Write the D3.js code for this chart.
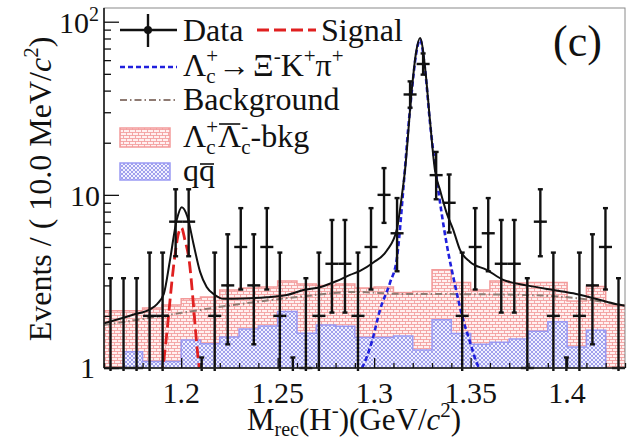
<!DOCTYPE html>
<html><head><meta charset="utf-8">
<script src="https://cdn.jsdelivr.net/npm/d3@7"></script>
<style>
body{margin:0;background:#fff}
text{font-family:"Liberation Serif","Times New Roman",serif;fill:#111}
</style>
</head><body>
<svg id="c" width="641" height="443"></svg>
<script>
// ---------------- data ----------------
const xMin = 1.16, xMax = 1.43;
const yMin = 1, yMax = 120;
const xTickValues = [1.2, 1.25, 1.3, 1.35, 1.4];
const xTickLabels = ["1.2", "1.25", "1.3", "1.35", "1.4"];
const yTickValues = [1, 10, 100];

// data histogram (40 bins over the range)
const dataCounts = [1,1,1,2,2,7,7,0,2,3,5,3,5,2,0,1,2,4,4,2,5,10,6,38,57,13,9,2,5,6,4,4,1,7,2,0,2,3,5,1];
const dataErrLow = [0.83,0.83,0.83,1.29,1.29,2.58,2.58,0,1.29,1.63,2.16,1.63,2.16,1.29,0,0.83,1.29,1.91,1.91,1.29,2.16,3.11,2.38,6.14,7.53,3.57,2.94,1.29,2.16,2.38,1.91,1.91,0.83,2.58,1.29,0,1.29,1.63,2.16,0.83];
const dataErrHigh = [2.30,2.30,2.30,2.64,2.64,3.77,3.77,1.15,2.64,2.92,3.38,2.92,3.38,2.64,1.15,2.30,2.64,3.16,3.16,2.64,3.38,4.27,3.58,7.23,8.58,4.70,4.11,2.64,3.38,3.58,3.16,3.16,2.30,3.77,2.64,1.15,2.64,2.92,3.38,2.30];

// MC histograms (27 bins of 10 MeV): LcLc-bkg stacked on qq, and qq alone
const lcBkgStack = [2.14,2.14,2.22,2.31,2.51,2.57,2.82,2.90,2.94,3.18,3.06,3.00,3.06,2.90,2.94,2.73,2.77,3.69,3.12,2.82,3.18,3.10,3.12,3.12,2.44,2.96,2.31];
const qqBkg = [0.9,1.24,1.09,1.09,1.45,1.38,1.51,1.68,1.75,2.12,1.59,1.77,1.74,1.50,1.50,1.53,1.27,1.90,1.58,1.37,1.41,1.47,1.63,1.85,1.32,1.65,0.9];

// fit curves: [mass, events]
const totalFit = [[1.160,1.81],[1.175,2.03],[1.184,2.19],[1.1875,2.34],[1.191,2.68],[1.194,4.07],[1.1977,7.17],[1.2003,8.49],[1.2032,7.49],[1.2063,5.26],[1.2098,3.59],[1.2132,2.94],[1.2175,2.64],[1.2218,2.51],[1.2322,2.52],[1.2443,2.56],[1.2547,2.64],[1.2633,2.82],[1.2719,2.93],[1.2806,3.18],[1.2875,3.45],[1.2927,3.64],[1.2996,4.07],[1.3065,4.75],[1.3117,6.28],[1.3143,9.78],[1.316,13.9],[1.3195,40.4],[1.3217,66.2],[1.3238,80.5],[1.3264,54.2],[1.3289,27.1],[1.3315,13.9],[1.3341,10.7],[1.3376,7.84],[1.341,6.28],[1.3445,4.81],[1.3497,4.10],[1.3583,3.69],[1.3669,3.23],[1.3791,3.00],[1.3928,2.82],[1.4032,2.70],[1.4136,2.53],[1.4239,2.36],[1.43,2.29]];
const signalCurve = [[1.1895,0.875],[1.1904,1.0],[1.1968,4.50],[1.1984,5.87],[1.2002,6.45],[1.2019,5.50],[1.2037,4.50],[1.2094,1.0],[1.2102,0.875]];
const xiKpiCurve = [[1.2916,0.91],[1.2937,1.0],[1.2989,1.43],[1.303,2.16],[1.3082,3.10],[1.3118,4.32],[1.3155,12.2],[1.3176,23.8],[1.3195,39.5],[1.3217,64.6],[1.3238,78.7],[1.3264,52.8],[1.3289,26.4],[1.3324,12.5],[1.3372,5.5],[1.3419,3.02],[1.3455,2.02],[1.3497,1.41],[1.3538,1.03],[1.3575,0.91]];
const backgroundCurve = [[1.16,1.77],[1.1925,2.02],[1.2269,2.31],[1.2616,2.58],[1.2901,2.75],[1.3134,2.68],[1.3445,2.67],[1.3791,2.64],[1.405,2.53],[1.43,2.29]];

// ---------------- drawing ----------------
const svg = d3.select('#c');
const L = 104, R = 625, T = 8, B = 368;
const x = d3.scaleLinear().domain([xMin, xMax]).range([L, R]);
const y = d3.scaleLog().domain([yMin, yMax]).range([B, T]);
const Y = v => v > 0 ? y(v) : B + 40;

const defs = svg.append('defs');
defs.append('clipPath').attr('id','clip').append('rect').attr('x',L).attr('y',T).attr('width',R-L).attr('height',B-T);
defs.append('clipPath').attr('id','clip2').append('rect').attr('x',L-3).attr('y',T).attr('width',R-L+6).attr('height',B-T+3);
const pp = defs.append('pattern').attr('id','pinkPat').attr('width',6).attr('height',6).attr('patternUnits','userSpaceOnUse');
pp.append('rect').attr('width',6).attr('height',6).attr('fill','#fff0f0');
pp.append('path').attr('d','M0,0.5H6M0,3.5H6M0.5,0.5V3.5M3.5,3.5V6').attr('stroke','#f19595').attr('stroke-width',0.8).attr('fill','none');
const bp = defs.append('pattern').attr('id','bluePat').attr('width',4).attr('height',4).attr('patternUnits','userSpaceOnUse');
bp.append('rect').attr('width',4).attr('height',4).attr('fill','#f1f1ff');
bp.append('path').attr('d','M0,0L4,4M4,0L0,4').attr('stroke','#7c7ce4').attr('stroke-width',0.7).attr('fill','none');

const plot = svg.append('g').attr('clip-path','url(#clip)');

function histPts(vals){
  const w = (xMax - xMin) / vals.length;
  const pts = vals.map((v,i) => [xMin + i*w, v]);
  pts.push([xMax, vals[vals.length-1]]);
  return pts;
}
const hArea = d3.area().x(d => x(d[0])).y0(B + 5).y1(d => Y(d[1])).curve(d3.curveStepAfter);
const hLine = d3.line().x(d => x(d[0])).y(d => Y(d[1])).curve(d3.curveStepAfter);

plot.append('path').attr('d', hArea(histPts(lcBkgStack))).attr('fill','url(#pinkPat)');
plot.append('path').attr('d', hLine(histPts(lcBkgStack))).attr('fill','none').attr('stroke','#f39a9a').attr('stroke-width',1.5);
plot.append('path').attr('d', hArea(histPts(qqBkg))).attr('fill','url(#bluePat)');
plot.append('path').attr('d', hLine(histPts(qqBkg))).attr('fill','none').attr('stroke','#9a9af4').attr('stroke-width',1.5);

const cLine = d3.line().x(d => x(d[0])).y(d => Y(d[1])).curve(d3.curveMonotoneX);
plot.append('path').attr('d', cLine(backgroundCurve)).attr('fill','none').attr('stroke','#8e7a72').attr('stroke-width',2).attr('stroke-dasharray','7,3,1.5,3');
plot.append('path').attr('d', cLine(xiKpiCurve)).attr('fill','none').attr('stroke','#2020dd').attr('stroke-width',2.6).attr('stroke-dasharray','5,3');
plot.append('path').attr('d', cLine(signalCurve)).attr('fill','none').attr('stroke','#e02020').attr('stroke-width',2.8).attr('stroke-dasharray','12,5');
plot.append('path').attr('d', cLine(totalFit)).attr('fill','none').attr('stroke','#111').attr('stroke-width',2);

// data points
const dg = svg.append('g').attr('clip-path','url(#clip2)').attr('stroke','#111').attr('stroke-width',2.4);
const bw = (xMax - xMin) / dataCounts.length;
dataCounts.forEach((n,i) => {
  const c = xMin + (i + 0.5)*bw;
  const cx = x(c);
  const lo = n - dataErrLow[i], hi = n + dataErrHigh[i];
  const yLo = lo >= yMin ? y(lo) : B + 3;
  const yHi = y(hi);
  dg.append('line').attr('x1',cx).attr('x2',cx).attr('y1',yLo).attr('y2',yHi);
  dg.append('line').attr('x1',cx-2.5).attr('x2',cx+2.5).attr('y1',yHi).attr('y2',yHi);
  if (lo >= yMin) dg.append('line').attr('x1',cx-2.5).attr('x2',cx+2.5).attr('y1',yLo).attr('y2',yLo);
  if (n > 0) {
    const yy = y(n);
    dg.append('line').attr('x1',x(c - bw/2)).attr('x2',x(c + bw/2)).attr('y1',yy).attr('y2',yy);
    dg.append('circle').attr('cx',cx).attr('cy',yy).attr('r',1.6).attr('fill','#111').attr('stroke','none');
  }
});

// frame
svg.append('rect').attr('x',L).attr('y',T).attr('width',R-L).attr('height',B-T).attr('fill','none').attr('stroke','#8a8a8a').attr('stroke-width',1);
svg.append('line').attr('x1',L).attr('x2',L).attr('y1',T).attr('y2',B).attr('stroke','#111').attr('stroke-width',1.5);
svg.append('line').attr('x1',L).attr('x2',R).attr('y1',B).attr('y2',B).attr('stroke','#111').attr('stroke-width',1.5);

// axes ticks (inward)
const yMinor = [];
[1,10].forEach(d => { for (let k = 2; k <= 9; k++) yMinor.push(d*k); });
const ax = svg.append('g').attr('transform',`translate(${L},0)`).call(d3.axisRight(y).tickValues(yTickValues).tickSize(15).tickFormat(''));
const ax2 = svg.append('g').attr('transform',`translate(${L},0)`).call(d3.axisRight(y).tickValues(yMinor).tickSize(7).tickFormat(''));
const xMinor = d3.range(0, 28).map(k => +(xMin + k*0.01).toFixed(3)).filter(v => !xTickValues.some(t => Math.abs(t - v) < 1e-6));
const bx = svg.append('g').attr('transform',`translate(0,${B})`).call(d3.axisTop(x).tickValues(xTickValues).tickSize(10).tickFormat(''));
const bx2 = svg.append('g').attr('transform',`translate(0,${B})`).call(d3.axisTop(x).tickValues(xMinor).tickSize(5).tickFormat(''));
[ax, ax2, bx, bx2].forEach(g => { g.select('.domain').remove(); g.selectAll('line').attr('stroke','#111').attr('stroke-width',1.3); });

// tick labels
const FS = 32;
xTickValues.forEach((v,i) => {
  svg.append('text').attr('x', x(v)).attr('y', 403).attr('text-anchor','middle').attr('font-size', FS-2).text(xTickLabels[i]);
});
svg.append('text').attr('x',95).attr('y',378).attr('text-anchor','end').attr('font-size',FS-2).text('1');
svg.append('text').attr('x',100).attr('y',y(10)+11).attr('text-anchor','end').attr('font-size',FS-2).text('10');
const t100 = svg.append('text').attr('x',59).attr('y',y(100)+11).attr('font-size',FS-2);
t100.append('tspan').text('10');
t100.append('tspan').attr('font-size',20).attr('dy',-12).text('2');

// rich text helper
function rich(g, x0, yb, pieces, size){
  let cx = x0;
  function put(q, xx){
    const s = q.size || size;
    const t = g.append('text').attr('x', xx).attr('y', yb + (q.dy || 0)).attr('font-size', s).text(q.t);
    if (q.italic) t.attr('font-style','italic');
    const w = t.node().getComputedTextLength();
    if (q.bar) g.append('line').attr('x1', xx + 1).attr('x2', xx + w - 1).attr('y1', yb + q.bar).attr('y2', yb + q.bar).attr('stroke','#111').attr('stroke-width',1.6);
    return w + (q.after || 0);
  }
  pieces.forEach(p => {
    if (p.stack){ let w = 0; p.stack.forEach(q => { w = Math.max(w, put(q, cx)); }); cx += w; }
    else cx += put(p, cx);
  });
  return cx - x0;
}

// legend
const lg = svg.append('g');
lg.append('line').attr('x1',120).attr('x2',177).attr('y1',30).attr('y2',30).attr('stroke','#111').attr('stroke-width',2.4);
lg.append('line').attr('x1',148).attr('x2',148).attr('y1',14).attr('y2',47).attr('stroke','#111').attr('stroke-width',2.4);
lg.append('circle').attr('cx',148).attr('cy',30).attr('r',4).attr('fill','#111');
rich(lg, 183, 41, [{t:'Data'}], FS);
lg.append('line').attr('x1',257).attr('x2',316).attr('y1',30).attr('y2',30).attr('stroke','#e02020').attr('stroke-width',2.8).attr('stroke-dasharray','12,5');
rich(lg, 321, 41, [{t:'Signal'}], FS);
lg.append('line').attr('x1',120).attr('x2',177).attr('y1',67).attr('y2',67).attr('stroke','#2020dd').attr('stroke-width',2.6).attr('stroke-dasharray','5,3');
rich(lg, 183, 76, [{t:'Λ'},{stack:[{t:'c',size:21,dy:7},{t:'+',size:21,dy:-13}]},{t:'→ ',after:3},{t:'Ξ'},{t:'-',size:21,dy:-13},{t:'K'},{t:'+',size:21,dy:-13},{t:'π'},{t:'+',size:21,dy:-13}], FS);
lg.append('line').attr('x1',120).attr('x2',177).attr('y1',100).attr('y2',100).attr('stroke','#8e7a72').attr('stroke-width',2).attr('stroke-dasharray','7,3,1.5,3');
rich(lg, 183, 110, [{t:'Background'}], FS);
lg.append('rect').attr('x',120).attr('y',128).attr('width',50).attr('height',19).attr('fill','url(#pinkPat)').attr('stroke','#f39a9a').attr('stroke-width',1.5);
rich(lg, 183, 147, [{t:'Λ'},{stack:[{t:'c',size:21,dy:7},{t:'+',size:21,dy:-13}]},{t:'Λ',bar:-23},{stack:[{t:'c',size:21,dy:7},{t:'-',size:21,dy:-14}]},{t:'-bkg'}], FS);
lg.append('rect').attr('x',120).attr('y',163).attr('width',50).attr('height',17).attr('fill','url(#bluePat)').attr('stroke','#9a9af4').attr('stroke-width',1.5);
rich(lg, 183, 181, [{t:'q'},{t:'q',bar:-17}], FS);

// (c)
svg.append('text').attr('x',553).attr('y',56).attr('font-size',44).text('(c)');

// axis titles
const xt = svg.append('g');
rich(xt, 0, 430, [{t:'M'},{t:'rec',size:20,dy:6},{t:'(H'},{t:'-',size:21,dy:-13},{t:')(GeV/'},{t:'c',italic:true},{t:'2',size:21,dy:-13},{t:')'}], FS-1);
xt.attr('transform',`translate(${247},0)`);
const ytg = svg.append('g');
const yin = ytg.append('g');
const wy = rich(yin, 0, 0, [{t:'Events / ( 10.0 MeV/'},{t:'c',italic:true},{t:'2',size:21,dy:-13},{t:')'}], FS);
yin.attr('transform',`translate(${-wy/2},0)`);
ytg.attr('transform',`translate(51,189) rotate(-90)`);
</script>
</body></html>
